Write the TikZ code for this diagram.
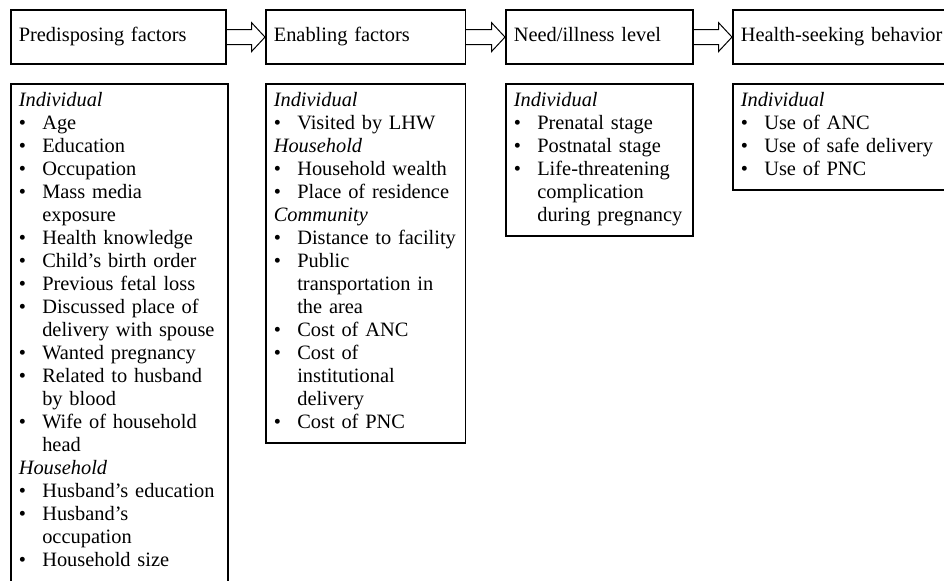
\documentclass[tikz,border=0pt]{standalone}
\usepackage{fontspec}
\setmainfont{Liberation Serif}
\usetikzlibrary{calc}

\tikzset{
  stage/.style={draw, line width=0.8pt, anchor=north west, minimum height=27pt, inner xsep=4pt, align=left},
  factors/.style={draw, line width=0.8pt, anchor=north west, inner xsep=4pt, inner ysep=3.5pt, align=left},
  blockarrow/.style={line width=0.5pt}
}
\newcommand{\bul}[1]{\mbox{\makebox[11.75pt][l]{\textbullet}#1}\strut}
\newcommand{\cnt}[1]{\mbox{\hspace*{11.75pt}#1}\strut}
\newcommand{\grp}[1]{\textit{#1}\strut}

\begin{document}
\begin{tikzpicture}[x=0.5pt, y=-0.5pt, font=\fontsize{10.2}{11.5}\selectfont]
    \useasboundingbox (0,0) rectangle (944,581);
    % Stages
    \node[stage, text width=99.5pt]  (pf) at (10,9.3)  {Predisposing factors\strut};
    \node[stage, text width=91.75pt] (ef) at (265,9.3) {Enabling factors\strut};
    \node[stage, text width=85.5pt]  (nl) at (505,9.3) {Need/illness level\strut};
    \node[stage, text width=102pt]   (hb) at (732,9.3) {Health-seeking behavior\strut};
    % Hollow arrows between stages
    \foreach \a/\b in {pf/ef, ef/nl, nl/hb} {
        \draw[blockarrow] ($(\a.east)+(0,-7.5)$) -- ($(\b.west)+(-13.5,-7.5)$)
            -- ($(\b.west)+(-13.5,-14.5)$) -- (\b.west) -- ($(\b.west)+(-13.5,14.5)$)
            -- ($(\b.west)+(-13.5,7.5)$) -- ($(\a.east)+(0,7.5)$);
    }
    % Factor lists
    \node[factors, text width=100.5pt] (pfList) at (10,83) {
        \grp{Individual}\\
        \bul{Age}\\
        \bul{Education}\\
        \bul{Occupation}\\
        \bul{Mass media}\\
        \cnt{exposure}\\
        \bul{Health knowledge}\\
        \bul{Child’s birth order}\\
        \bul{Previous fetal loss}\\
        \bul{Discussed place of}\\
        \cnt{delivery with spouse}\\
        \bul{Wanted pregnancy}\\
        \bul{Related to husband}\\
        \cnt{by blood}\\
        \bul{Wife of household}\\
        \cnt{head}\\
        \grp{Household}\\
        \bul{Husband’s education}\\
        \bul{Husband’s}\\
        \cnt{occupation}\\
        \bul{Household size}\rule[-12pt]{0pt}{12pt}};
    \node[factors, text width=91.75pt] (efList) at (265,83) {
        \grp{Individual}\\
        \bul{Visited by LHW}\\
        \grp{Household}\\
        \bul{Household wealth}\\
        \bul{Place of residence}\\
        \grp{Community}\\
        \bul{Distance to facility}\\
        \bul{Public}\\
        \cnt{transportation in}\\
        \cnt{the area}\\
        \bul{Cost of ANC}\\
        \bul{Cost of}\\
        \cnt{institutional}\\
        \cnt{delivery}\\
        \bul{Cost of PNC}};
    \node[factors, text width=85.5pt] (nlList) at (505,83) {
        \grp{Individual}\\
        \bul{Prenatal stage}\\
        \bul{Postnatal stage}\\
        \bul{Life-threatening}\\
        \cnt{complication}\\
        \cnt{during pregnancy}};
    \node[factors, text width=102pt] (hbList) at (732,83) {
        \grp{Individual}\\
        \bul{Use of ANC}\\
        \bul{Use of safe delivery}\\
        \bul{Use of PNC}};
\end{tikzpicture}
\end{document}
